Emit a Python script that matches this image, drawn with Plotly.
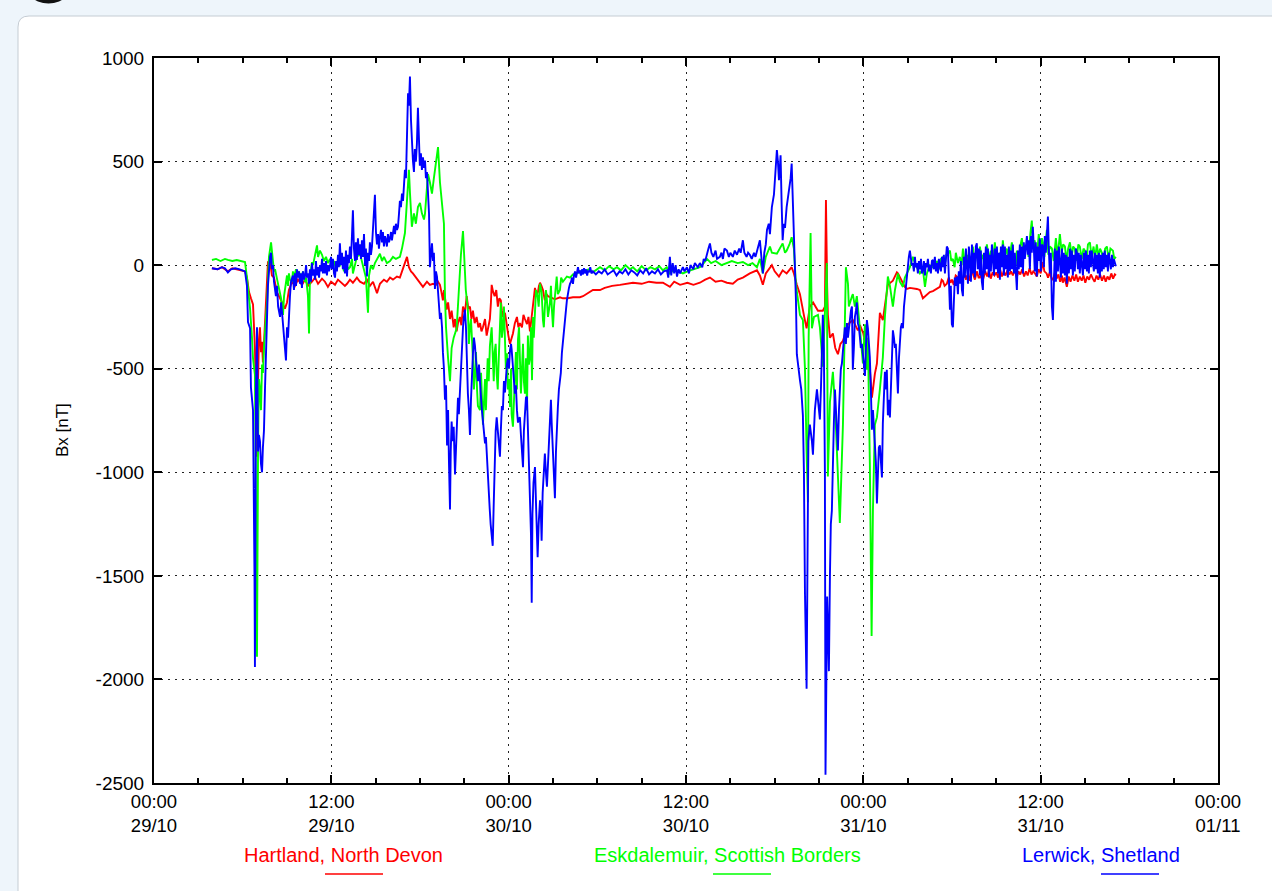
import plotly.graph_objects as go
import pandas as pd

# ---------------- data (hours after 29/10 00:00, Bx in nT) ----------------
hartland = [
    (3.92, -15), (4.3, -20), (4.6, -10), (5.0, -30), (5.3, -15), (5.6, -20), (6.0, -25), (6.16, -30),
    (6.29, -60), (6.43, -130), (6.56, -160), (6.70, -190), (6.83, -400), (6.97, -925), (7.04, -570),
    (7.10, -360), (7.17, -300), (7.24, -420), (7.31, -370), (7.37, -470), (7.44, -380), (7.51, -290),
    (7.58, -150), (7.71, 15), (7.85, 20), (7.98, -50), (8.12, -60), (8.32, -130), (8.53, -160),
    (8.66, -180), (8.86, -210), (9.00, -180), (9.13, -120), (9.34, -80), (9.54, -100), (9.74, -70),
    (10.01, -95), (10.22, -70), (10.42, -100), (10.69, -80), (10.90, -60), (11.10, -90), (11.37, -65),
    (11.57, -80), (11.77, -105), (11.98, -80), (12.25, -95), (12.45, -70), (12.72, -90), (12.92, -100),
    (13.06, -90), (13.26, -70), (13.46, -85), (13.73, -60), (13.94, -80), (14.21, -90), (14.41, -70),
    (14.61, -100), (14.82, -80), (15.09, -135), (15.29, -90), (15.56, -70), (15.76, -80), (15.97, -60),
    (16.17, -70), (16.44, -55), (16.64, -60), (16.85, -20), (17.12, 40), (17.25, -10), (17.39, -30),
    (17.52, -40), (17.72, -60), (17.92, -80), (18.2, -105), (18.47, -80), (18.67, -95), (18.88, -90),
    (19.08, -95), (19.22, -80), (19.35, -95), (19.45, -130), (19.55, -170), (19.62, -120),
    (19.69, -150), (19.80, -215), (19.90, -180), (20.03, -260), (20.14, -220), (20.28, -300),
    (20.37, -260), (20.48, -320), (20.57, -280), (20.70, -250), (20.80, -290), (20.91, -200),
    (21.04, -230), (21.16, -150), (21.27, -210), (21.38, -200), (21.48, -260), (21.58, -220),
    (21.70, -280), (21.83, -250), (21.95, -300), (22.06, -280), (22.16, -320), (22.26, -300),
    (22.40, -260), (22.51, -340), (22.62, -300), (22.73, -260), (22.80, -180), (22.85, -95),
    (22.95, -130), (23.05, -150), (23.16, -120), (23.27, -200), (23.37, -160), (23.47, -170),
    (23.54, -220), (23.61, -250), (23.75, -230), (23.88, -300), (23.98, -340), (24.09, -380),
    (24.20, -350), (24.29, -330), (24.42, -280), (24.56, -250), (24.66, -300), (24.76, -280),
    (24.90, -300), (25.00, -240), (25.10, -260), (25.24, -285), (25.34, -250), (25.44, -320),
    (25.54, -260), (25.64, -200), (25.72, -140), (25.78, -110), (25.88, -150), (25.98, -130),
    (26.05, -100), (26.12, -85), (26.22, -100), (26.32, -120), (26.45, -170), (26.55, -140),
    (26.66, -150), (26.79, -155), (27.13, -165), (27.47, -155),
    (27.67, -160), (28.0, -160), (28.35, -155), (28.82, -155), (29.03, -150), (29.70, -120),
    (30.18, -120), (30.5, -110), (31.0, -100), (31.53, -95), (32.0, -90), (32.41, -85), (33.0, -90),
    (33.5, -80), (34.0, -85), (34.44, -85), (34.91, -105), (35.2, -80), (35.6, -95), (36.1, -85),
    (36.5, -95), (36.94, -85), (37.3, -70), (37.62, -60), (38.0, -80), (38.4, -75), (38.77, -85),
    (39.17, -90), (39.5, -70), (39.85, -60), (40.32, -40), (40.80, -25), (41.0, -50), (41.20, -95),
    (41.4, -40), (41.81, 0), (42.0, -30), (42.29, -55), (42.54, -25), (42.81, -40), (43.15, -10),
    (43.30, -40), (43.50, -95), (43.71, -140), (44.0, -250), (44.16, -305), (44.38, -200),
    (44.60, -180), (44.93, -220), (45.26, -220), (45.40, -200), (45.47, 315), (45.55, -100),
    (45.60, -240), (45.74, -350), (45.94, -330), (46.10, -400), (46.28, -430), (46.45, -380),
    (46.62, -365), (46.96, -285), (47.29, -265), (47.63, -315), (47.77, -290), (48.0, -330),
    (48.31, -445), (48.44, -500), (48.58, -640), (48.70, -550), (48.78, -525), (48.92, -475),
    (49.12, -230), (49.32, -265), (49.59, -120), (49.66, -95), (50.0, -75), (50.27, -35), (50.34, -40),
    (50.81, -105), (50.95, -115), (51.15, -110), (51.62, -115), (51.83, -120), (52.03, -160),
    (52.50, -130), (52.71, -125), (53.18, -105), (53.3, -70), (53.38, -75), (53.5, -100), (53.65, -90),
    (53.78, -60), (53.9, -85), (54.0, -70), (54.12, -95), (54.25, -50), (54.33, -55), (54.45, -85),
    (54.58, -45), (54.7, -80), (54.82, -40), (54.95, -70), (55.0, -50), (55.15, -75), (55.28, -35),
    (55.41, -40), (55.55, -70), (55.68, -30), (55.8, -60), (55.89, -60), (56.0, -35), (56.12, -65),
    (56.25, -30), (56.38, -55), (56.5, -25), (56.62, -65), (56.75, -35), (56.88, -50), (57.0, -35),
    (57.12, -60), (57.25, -20), (57.38, -55), (57.5, -30), (57.62, -50), (57.75, -25), (57.88, -45),
    (58.0, -30), (58.12, -50), (58.25, -20), (58.38, -60), (58.5, -30), (58.62, -45), (58.75, -20),
    (58.88, -55), (59.0, -30), (59.12, -50), (59.25, -15), (59.38, -45), (59.5, -30), (59.62, -40),
    (59.74, -55), (59.86, -20), (60.0, -40), (60.15, 15), (60.25, -30), (60.4, -40), (60.5, -60),
    (60.62, -35), (60.76, -70), (60.83, -70), (60.95, -40), (61.08, -65), (61.2, -45), (61.32, -80),
    (61.44, -50), (61.5, -85), (61.62, -60), (61.77, -105), (61.9, -55), (62.02, -80), (62.15, -50),
    (62.28, -75), (62.4, -45), (62.52, -80), (62.65, -55), (62.78, -75), (62.9, -50), (63.02, -85),
    (63.15, -55), (63.28, -70), (63.4, -45), (63.53, -65), (63.65, -80), (63.78, -50), (63.9, -70),
    (64.02, -45), (64.15, -75), (64.28, -50), (64.4, -80), (64.52, -55), (64.65, -70), (64.78, -40),
    (64.9, -65), (65.02, -45), (65.09, -50),
]

eskdalemuir = [
    (3.92, 25), (4.2, 30), (4.5, 20), (4.8, 30), (5.0, 25), (5.3, 20), (5.6, 25), (6.0, 18), (6.16, 15),
    (6.29, -60), (6.43, -150), (6.50, -210), (6.63, -350), (6.70, -450), (6.83, -530), (6.90, -1200),
    (6.97, -1890), (7.04, -900), (7.10, -550), (7.17, -600), (7.24, -700), (7.31, -480), (7.37, -520),
    (7.44, -400), (7.51, -300), (7.58, -250), (7.65, -180), (7.71, -50), (7.78, 40), (7.92, 110),
    (7.98, 80), (8.05, 20), (8.12, -30), (8.19, -20), (8.32, -65), (8.40, -90), (8.53, -130),
    (8.60, -160), (8.66, -200), (8.73, -240), (8.80, -150), (8.86, -120), (9.00, -50), (9.07, -100),
    (9.13, -40), (9.20, -70), (9.34, -80), (9.40, -30), (9.47, -60), (9.61, -20), (9.74, -50),
    (9.81, -30), (9.95, -70), (10.08, -30), (10.22, -80), (10.29, -60), (10.42, -150), (10.49, -330),
    (10.55, -60), (10.62, -20), (10.69, 15), (10.76, 0), (10.90, 60), (11.03, 95), (11.10, 40),
    (11.23, 70), (11.37, 50), (11.50, 20), (11.64, 40), (11.77, 10), (11.91, 30), (12.05, -10),
    (12.18, 20), (12.32, -20), (12.45, 10), (12.58, 0), (12.72, 30), (12.85, -30), (12.99, 20),
    (13.13, -20), (13.26, -10), (13.40, 30), (13.46, -40), (13.60, 10), (13.73, 40), (13.94, 55),
    (14.07, 20), (14.21, -20), (14.34, -60), (14.48, -230), (14.55, -50), (14.68, 0), (14.82, -20),
    (14.95, 10), (15.09, 30), (15.29, 55), (15.43, 20), (15.56, 40), (15.76, 10), (15.97, 20),
    (16.17, 40), (16.37, 30), (16.64, 40), (16.78, 80), (16.98, 155), (17.12, 300), (17.25, 460),
    (17.32, 350), (17.45, 185), (17.59, 250), (17.72, 200), (17.86, 280), (18.0, 300), (18.13, 250),
    (18.27, 220), (18.34, 250), (18.47, 380), (18.54, 440), (18.67, 400), (18.81, 345), (18.94, 420),
    (19.08, 500), (19.22, 570), (19.35, 400), (19.49, 300), (19.62, 200), (19.69, -150), (19.76, -300),
    (19.90, -450), (20.03, -560), (20.14, -400), (20.28, -350), (20.48, -305), (20.63, -100),
    (20.77, 50), (20.91, 165), (21.04, 0), (21.1, -120), (21.24, -215), (21.31, -380), (21.38, -300),
    (21.45, -260), (21.58, -450), (21.65, -600), (21.72, -525), (21.79, -420), (21.86, -600),
    (21.92, -680), (22.06, -700), (22.13, -520), (22.26, -770), (22.33, -640), (22.40, -550),
    (22.46, -700), (22.58, -450), (22.65, -560), (22.73, -390), (22.85, -300), (22.92, -480),
    (22.99, -560), (23.05, -420), (23.12, -380), (23.19, -525), (23.26, -600), (23.33, -450),
    (23.41, -250), (23.47, -180), (23.54, -350), (23.61, -305), (23.68, -200), (23.75, -350),
    (23.81, -500), (23.88, -425), (23.95, -600), (24.02, -550), (24.09, -685), (24.16, -500),
    (24.20, -720), (24.29, -780), (24.36, -650), (24.42, -550), (24.49, -420), (24.56, -600),
    (24.63, -360), (24.70, -300), (24.76, -425), (24.83, -620), (24.90, -500), (24.97, -380),
    (25.03, -560), (25.10, -620), (25.17, -450), (25.24, -700), (25.30, -340), (25.37, -480),
    (25.44, -450), (25.51, -300), (25.58, -555), (25.64, -250), (25.70, -350), (25.78, -200),
    (25.85, -120), (25.96, -150), (26.03, -200), (26.12, -90), (26.23, -130), (26.32, -265),
    (26.38, -300), (26.45, -200), (26.52, -120), (26.57, -150), (26.66, -250), (26.79, -185),
    (26.86, -100), (26.93, -220), (27.00, -300), (27.07, -200), (27.13, -150), (27.20, -80),
    (27.25, -55), (27.33, -140), (27.47, -120), (27.55, -60), (27.67, -80), (27.94, -55),
    (28.15, -60), (28.35, -45), (28.62, -40), (28.82, -30),
    (29.03, -35), (29.40, -20), (29.70, -35), (30.18, -10), (30.5, -25), (30.8, -5), (31.1, -20),
    (31.33, -10), (31.6, -25), (31.9, 0), (32.2, -20), (32.41, -10), (32.7, -30), (33.0, -5),
    (33.3, -25), (33.6, -10), (33.9, -20), (34.2, -5), (34.44, -25), (34.7, -10), (34.91, -40),
    (35.2, -20), (35.5, -30), (35.79, -40), (36.1, -30), (36.5, -20), (36.94, -10), (37.2, 10),
    (37.42, 30), (37.7, 10), (38.0, 20), (38.4, 0), (38.77, 10), (39.1, 20), (39.5, 10), (39.85, 15),
    (40.2, 0), (40.5, 10), (40.80, -10), (41.0, 30), (41.20, -40), (41.4, 40), (41.68, 90), (41.81, 60),
    (42.15, 55), (42.40, 90), (42.54, 105), (42.7, 60), (42.81, 70), (43.0, 100), (43.15, 135),
    (43.30, 80), (43.44, -95), (43.60, -180), (43.71, -240), (43.91, -265), (44.05, -500),
    (44.16, -900), (44.25, -1145), (44.30, -350), (44.38, -100), (44.43, 155), (44.52, -305),
    (44.66, -250), (44.93, -240), (45.06, -300), (45.26, -490), (45.40, -200), (45.53, 10),
    (45.60, -1020), (45.74, -660), (45.94, -515), (46.10, -700), (46.21, -895), (46.41, -1245),
    (46.62, -770), (46.75, -300), (46.82, -10), (46.96, -90), (47.02, -200), (47.23, -150),
    (47.29, -140), (47.43, -200), (47.56, -150), (47.77, -305), (47.97, -475), (48.11, -285),
    (48.24, -505), (48.31, -350), (48.44, -955), (48.56, -1790), (48.65, -1180), (48.78, -770),
    (48.92, -735), (49.12, -600), (49.32, -445), (49.46, -250), (49.66, -55), (49.80, -100),
    (50.0, -200), (50.14, -120), (50.34, -40), (50.47, -80), (50.68, -105), (50.81, -60), (51.15, -10),
    (51.35, 40), (51.55, 0), (51.83, -40), (52.03, -20), (52.17, -105), (52.30, -40), (52.50, 0),
    (52.71, -10), (53.0, 20), (53.12, -20), (53.25, 30), (53.38, 40), (53.5, 0), (53.62, 50),
    (53.72, 55), (53.86, 70), (53.95, 20), (54.06, 30), (54.18, -10), (54.26, 60), (54.4, 10),
    (54.53, 40), (54.65, 0), (54.74, 80), (54.85, 20), (55.01, 50), (55.1, -10), (55.21, 30),
    (55.3, -20), (55.41, 90), (55.52, 20), (55.68, 60), (55.78, 0), (55.89, 90), (56.0, 30),
    (56.09, 50), (56.2, -10), (56.36, 100), (56.48, 30), (56.63, 70), (56.75, 10), (56.90, 110),
    (57.0, 40), (57.12, 20), (57.24, 60), (57.35, 0), (57.44, 120), (57.55, 40), (57.71, 80),
    (57.82, 20), (57.95, 60), (58.05, 110), (58.18, 30), (58.3, -10), (58.39, 70), (58.5, 20),
    (58.62, 90), (58.73, 130), (58.85, 40), (58.96, 90), (59.07, 100), (59.18, 40), (59.3, 150),
    (59.40, 215), (59.5, 80), (59.60, 120), (59.72, 20), (59.87, 150), (59.98, 60), (60.08, 130),
    (60.15, 110), (60.25, 40), (60.35, 120), (60.42, 170), (60.52, 50), (60.62, 90), (60.76, 80),
    (60.88, 20), (61.03, 130), (61.15, 40), (61.30, 150), (61.42, 60), (61.52, 100), (61.64, 90),
    (61.75, 20), (61.86, 80), (61.98, 110), (62.1, 40), (62.2, 90), (62.31, 80), (62.42, 20),
    (62.55, 100), (62.65, 90), (62.78, 30), (62.9, 80), (62.99, 70), (63.1, 20), (63.2, 100),
    (63.33, 110), (63.45, 40), (63.58, 90), (63.68, 30), (63.80, 100), (63.92, 40), (64.02, 80),
    (64.14, 60), (64.25, 10), (64.36, 80), (64.48, 90), (64.6, 30), (64.72, 80), (64.89, 70),
    (64.98, 30), (65.09, 40),
]

lerwick = [
    (3.92, -15), (4.3, -20), (4.6, -10), (4.8, -15), (5.0, -35), (5.2, -20), (5.5, -15), (5.8, -20),
    (6.16, -30), (6.29, -100), (6.36, -275), (6.50, -305), (6.56, -590), (6.70, -700), (6.80, -1500),
    (6.83, -1940), (6.87, -1200), (6.90, -600), (6.97, -300), (7.04, -900), (7.10, -820), (7.17, -850),
    (7.24, -960), (7.31, -1000), (7.37, -880), (7.44, -800), (7.51, -600), (7.58, -400), (7.65, -250),
    (7.71, -100), (7.85, 40), (7.92, 60), (7.98, -20), (8.05, 0), (8.12, -80), (8.19, -130),
    (8.25, -150), (8.32, -100), (8.40, -200), (8.53, -250), (8.60, -180), (8.66, -225), (8.73, -300),
    (8.80, -340), (8.86, -400), (8.93, -460), (9.00, -300), (9.07, -350), (9.13, -200), (9.20, -150),
    (9.27, -80), (9.34, -60), (9.40, -50), (9.47, -120), (9.54, -40), (9.61, -100), (9.68, -20),
    (9.74, -60), (9.81, -30), (9.88, -90), (9.95, -40), (10.01, -110), (10.08, -30), (10.15, -70),
    (10.22, -50), (10.29, 0), (10.35, -60), (10.42, -40), (10.49, -90), (10.55, -20), (10.62, -80),
    (10.69, 10), (10.76, -50), (10.83, -20), (10.90, -70), (10.96, 20), (11.03, -50), (11.10, -10),
    (11.17, -60), (11.23, 0), (11.30, -30), (11.37, 30), (11.43, -40), (11.50, 10), (11.57, -40),
    (11.64, 20), (11.70, -50), (11.77, 0), (11.84, -30), (11.91, -10), (11.98, 40), (12.05, -20),
    (12.11, 30), (12.18, -40), (12.25, -60), (12.32, 20), (12.38, -30), (12.45, 50), (12.51, -10),
    (12.58, 105), (12.65, 0), (12.72, 60), (12.78, -20), (12.85, 40), (12.92, -40), (12.99, 70),
    (13.06, -55), (13.13, 50), (13.19, 10), (13.26, 90), (13.33, 30), (13.40, 150), (13.46, 265),
    (13.53, 80), (13.60, 20), (13.66, 110), (13.73, 25), (13.80, 130), (13.87, 50), (13.94, 100),
    (14.01, 30), (14.07, 120), (14.14, 40), (14.21, 150), (14.28, 0), (14.34, 80), (14.41, -55),
    (14.48, 60), (14.55, 20), (14.61, 110), (14.68, 50), (14.75, 90), (14.82, 180), (14.88, 250),
    (14.95, 340), (15.02, 160), (15.09, 100), (15.16, 150), (15.22, 80), (15.29, 135), (15.36, 170),
    (15.43, 110), (15.49, 160), (15.56, 90), (15.63, 140), (15.70, 120), (15.76, 90), (15.83, 150),
    (15.90, 110), (15.97, 130), (16.04, 160), (16.10, 120), (16.17, 155), (16.24, 190), (16.31, 150),
    (16.37, 200), (16.44, 170), (16.51, 185), (16.58, 250), (16.64, 310), (16.71, 280), (16.78, 345),
    (16.85, 310), (16.91, 400), (16.98, 460), (17.05, 420), (17.12, 600), (17.19, 830), (17.25, 770),
    (17.32, 910), (17.39, 700), (17.45, 560), (17.52, 505), (17.59, 450), (17.65, 560), (17.72, 500),
    (17.79, 585), (17.86, 760), (17.92, 640), (17.99, 480), (18.06, 540), (18.13, 460), (18.20, 520),
    (18.27, 470), (18.34, 505), (18.40, 420), (18.47, 450), (18.54, 315), (18.61, 250), (18.67, -10),
    (18.74, 80), (18.81, 105), (18.88, 20), (18.94, 60), (19.01, -115), (19.08, -30), (19.15, -55),
    (19.22, -150), (19.28, -200), (19.35, -260), (19.42, -230), (19.49, -300), (19.55, -420),
    (19.62, -500), (19.69, -650), (19.76, -580), (19.83, -870), (19.90, -700), (19.96, -950),
    (20.03, -1180), (20.08, -900), (20.14, -755), (20.21, -850), (20.28, -780), (20.37, -1010),
    (20.43, -880), (20.50, -700), (20.57, -640), (20.63, -720), (20.70, -595), (20.77, -500),
    (20.84, -400), (20.91, -300), (20.97, -250), (21.04, -215), (21.11, -300), (21.17, -480),
    (21.24, -620), (21.31, -700), (21.38, -820), (21.45, -650), (21.52, -500), (21.58, -430),
    (21.65, -350), (21.72, -390), (21.79, -460), (21.86, -520), (21.92, -560), (21.99, -480),
    (22.06, -595), (22.13, -640), (22.19, -700), (22.26, -760), (22.33, -820), (22.40, -860),
    (22.46, -830), (22.51, -910), (22.58, -1000), (22.65, -1100), (22.72, -1180), (22.78, -1250),
    (22.85, -1300), (22.92, -1355), (22.99, -1150), (23.05, -950), (23.12, -800), (23.19, -735),
    (23.26, -800), (23.33, -870), (23.41, -925), (23.47, -800), (23.54, -680), (23.61, -700),
    (23.68, -560), (23.75, -615), (23.81, -520), (23.88, -480), (23.95, -450), (24.02, -500),
    (24.09, -410), (24.16, -380), (24.20, -405), (24.29, -520), (24.36, -560), (24.42, -620),
    (24.49, -580), (24.56, -700), (24.63, -760), (24.70, -740), (24.76, -735), (24.83, -820),
    (24.90, -900), (24.97, -975), (25.03, -800), (25.10, -700), (25.17, -640), (25.24, -635),
    (25.30, -800), (25.37, -950), (25.44, -1135), (25.51, -1300), (25.56, -1630), (25.61, -1200),
    (25.68, -1050), (25.78, -975), (25.85, -1150), (25.91, -1300), (25.96, -1410), (26.03, -1250),
    (26.12, -1135), (26.18, -1200), (26.23, -1330), (26.30, -1100), (26.38, -950), (26.45, -910),
    (26.52, -1000), (26.59, -1070), (26.66, -960), (26.73, -820), (26.79, -700), (26.86, -650),
    (26.91, -760), (27.00, -900), (27.07, -1050), (27.13, -1125), (27.20, -900), (27.27, -750),
    (27.33, -685), (27.40, -600), (27.47, -560), (27.53, -520), (27.60, -425), (27.67, -380),
    (27.74, -320), (27.81, -280), (27.88, -215), (27.94, -170), (28.01, -130), (28.08, -110),
    (28.15, -90), (28.22, -80), (28.29, -60), (28.35, -90), (28.42, -50), (28.49, -30), (28.56, -60),
    (28.62, -40), (28.69, -10), (28.76, -40), (28.82, -25), (28.89, -50), (28.96, -20), (29.03, -45),
    (29.10, -15), (29.17, -40), (29.24, -20), (29.31, -50), (29.38, -25), (29.45, -35), (29.52, -10),
    (29.60, -40), (29.70, -30), (29.9, -45), (30.1, -30), (30.3, -40), (30.5, -20), (30.7, -45),
    (30.9, -35), (31.1, -25), (31.3, -50), (31.5, -30), (31.7, -40), (31.9, -20), (32.1, -45),
    (32.3, -25), (32.5, -35), (32.7, -50), (32.9, -25), (33.1, -40), (33.3, -15), (33.5, -45),
    (33.7, -30), (33.9, -40), (34.1, -20), (34.3, -45), (34.5, -30), (34.71, -25), (34.8, -60),
    (34.91, 40), (35.0, -50), (35.1, 10), (35.2, -40), (35.3, 0), (35.39, -55), (35.5, -20),
    (35.6, -40), (35.79, -10), (35.9, -30), (36.06, -10), (36.2, -40), (36.3, 0), (36.5, -20),
    (36.6, 10), (36.8, -10), (36.94, 10), (37.1, -10), (37.2, 30), (37.3, 20), (37.42, 60),
    (37.52, 80), (37.62, 105), (37.72, 60), (37.85, 40), (38.0, 70), (38.1, 30), (38.29, 40),
    (38.4, 60), (38.5, 30), (38.6, 80), (38.77, 70), (38.9, 40), (39.0, 60), (39.17, 40), (39.3, 70),
    (39.45, 50), (39.6, 80), (39.70, 60), (39.85, 120), (39.95, 60), (40.1, 40), (40.2, 60),
    (40.32, 50), (40.45, 30), (40.6, 60), (40.70, 40), (40.80, 70), (40.9, 90), (41.0, 120),
    (41.10, 40), (41.20, -40), (41.3, 60), (41.40, 100), (41.48, 170), (41.6, 200), (41.68, 150),
    (41.81, 280), (41.95, 340), (42.05, 460), (42.15, 555), (42.22, 500), (42.29, 410), (42.35, 470),
    (42.40, 530), (42.47, 300), (42.54, 120), (42.62, 200), (42.70, 180), (42.81, 280), (42.90, 320),
    (43.0, 380), (43.08, 420), (43.15, 490), (43.23, 330), (43.30, 150), (43.37, -35), (43.44, -170),
    (43.50, -430), (43.60, -500), (43.71, -555), (43.80, -600), (43.91, -725), (43.98, -1000),
    (44.05, -1580), (44.16, -2045), (44.22, -1200), (44.28, -850), (44.38, -770), (44.45, -800),
    (44.52, -850), (44.59, -915), (44.66, -800), (44.72, -700), (44.86, -600), (44.93, -650),
    (45.06, -745), (45.13, -600), (45.20, -350), (45.26, -240), (45.33, -400), (45.40, -1000),
    (45.44, -2460), (45.50, -2000), (45.55, -1600), (45.60, -1730), (45.67, -1960), (45.74, -1500),
    (45.80, -1250), (45.87, -1185), (45.94, -900), (46.01, -750), (46.08, -600), (46.14, -700),
    (46.21, -820), (46.28, -895), (46.35, -700), (46.41, -550), (46.48, -500), (46.55, -475),
    (46.62, -420), (46.75, -300), (46.82, -380), (46.89, -280), (46.96, -350), (47.02, -300),
    (47.09, -250), (47.16, -220), (47.23, -200), (47.29, -505), (47.36, -400), (47.43, -250),
    (47.50, -220), (47.56, -180), (47.63, -280), (47.70, -300), (47.77, -350), (47.83, -400),
    (47.90, -380), (47.97, -420), (48.04, -480), (48.11, -535), (48.17, -400), (48.24, -265),
    (48.31, -305), (48.37, -380), (48.44, -445), (48.51, -600), (48.58, -795), (48.65, -700),
    (48.72, -770), (48.78, -830), (48.85, -950), (48.92, -1150), (48.98, -1000), (49.05, -880),
    (49.12, -870), (49.19, -950), (49.26, -1025), (49.32, -765), (49.39, -600), (49.46, -515),
    (49.52, -600), (49.59, -505), (49.66, -725), (49.73, -650), (49.80, -735), (49.87, -550),
    (49.93, -400), (50.00, -315), (50.07, -350), (50.14, -400), (50.20, -380), (50.27, -500),
    (50.34, -620), (50.41, -450), (50.47, -350), (50.54, -300), (50.61, -280), (50.68, -305),
    (50.75, -200), (50.81, -150), (50.88, -100), (50.95, -35), (51.02, 20), (51.08, 40), (51.15, 70),
    (51.22, 30), (51.28, 0), (51.35, 10), (51.42, -30), (51.49, 40), (51.55, -10), (51.62, 10),
    (51.69, -40), (51.76, 20), (51.83, -20), (51.90, 30), (51.96, -40), (52.03, -25), (52.10, 20),
    (52.17, -50), (52.23, 10), (52.30, -10), (52.37, 30), (52.44, -30), (52.50, 0), (52.57, -40),
    (52.64, 20), (52.71, 25), (52.77, -20), (52.84, 40), (52.91, -30), (52.98, 10), (53.05, -40),
    (53.11, 30), (53.18, 0), (53.25, -30), (53.32, 40), (53.38, -10), (53.45, 50), (53.52, -40),
    (53.58, 20), (53.65, 90), (53.72, 80), (53.79, -50), (53.86, -215), (53.92, -100), (53.99, -285),
    (54.06, -300), (54.13, -150), (54.19, -60), (54.26, -100), (54.33, -55), (54.40, -140),
    (54.46, -30), (54.53, -90), (54.60, 20), (54.67, -120), (54.74, -150), (54.80, 40), (54.87, -60),
    (54.94, 80), (55.01, -20), (55.08, -90), (55.14, 90), (55.21, 30), (55.28, -80), (55.35, 100),
    (55.41, -40), (55.48, 60), (55.55, -60), (55.61, 90), (55.68, 105), (55.75, -20), (55.82, 80),
    (55.89, -50), (55.95, 70), (56.02, -80), (56.09, -120), (56.16, 60), (56.22, -40), (56.29, 90),
    (56.36, -20), (56.43, 80), (56.50, -60), (56.56, 50), (56.63, -30), (56.70, 100), (56.77, 30),
    (56.84, -50), (56.90, 80), (56.97, -20), (57.04, 90), (57.11, -40), (57.17, 60), (57.24, -70),
    (57.31, 90), (57.38, -10), (57.44, 100), (57.51, -50), (57.58, 90), (57.65, -20), (57.71, 50),
    (57.78, -60), (57.85, 90), (57.92, -30), (57.98, 70), (58.05, -20), (58.12, 100), (58.19, -40),
    (58.25, 60), (58.32, -60), (58.39, -120), (58.46, 70), (58.52, -20), (58.59, 100), (58.66, -10),
    (58.73, 90), (58.80, -40), (58.86, 110), (58.93, 30), (59.00, 90), (59.07, 140), (59.13, 50),
    (59.20, 120), (59.27, -20), (59.34, 140), (59.40, 60), (59.47, 185), (59.54, 80), (59.60, -30),
    (59.67, 110), (59.74, -55), (59.81, 90), (59.87, 20), (59.94, 130), (60.01, -30), (60.08, 100),
    (60.15, 90), (60.22, -10), (60.28, 140), (60.35, 60), (60.42, 160), (60.49, 235), (60.55, 80),
    (60.62, -40), (60.69, 60), (60.76, -200), (60.83, -265), (60.89, -60), (60.96, 80), (61.03, -80),
    (61.10, 70), (61.17, -30), (61.23, 90), (61.30, 20), (61.37, -60), (61.44, 80), (61.50, -40),
    (61.57, 60), (61.64, -50), (61.71, 50), (61.77, -90), (61.84, 40), (61.91, -40), (61.98, 80),
    (62.04, -20), (62.11, 70), (62.18, -50), (62.25, 50), (62.31, -30), (62.38, 80), (62.45, 60),
    (62.52, -20), (62.58, 60), (62.65, -40), (62.72, 50), (62.79, 0), (62.86, -50), (62.92, 60),
    (62.99, -20), (63.06, 70), (63.13, -30), (63.19, 50), (63.26, -40), (63.33, 70), (63.40, -10),
    (63.46, 70), (63.53, 20), (63.60, -30), (63.67, 60), (63.73, -20), (63.80, 50), (63.87, -40),
    (63.94, 60), (64.00, -60), (64.07, 50), (64.14, -30), (64.21, 60), (64.27, -20), (64.34, 70),
    (64.41, -10), (64.48, 50), (64.55, -30), (64.61, 60), (64.68, 20), (64.75, -20), (64.82, 50),
    (64.89, -10), (64.95, 30), (65.02, 10), (65.09, -5),
]

station_names = ["Hartland, North Devon", "Eskdalemuir, Scottish Borders", "Lerwick, Shetland"]
station_colors = ["#ff0000", "#00ff00", "#0000ff"]
x_tick_hours = [0, 12, 24, 36, 48, 60, 72]
x_tick_text = ["00:00<br>29/10", "12:00<br>29/10", "00:00<br>30/10", "12:00<br>30/10",
               "00:00<br>31/10", "12:00<br>31/10", "00:00<br>01/11"]
y_ticks = [-2500, -2000, -1500, -1000, -500, 0, 500, 1000]
y_tick_text = ["-2500", "-2000", "-1500", "-1000", "-500", "0", "500", "1000"]

# ---------------- figure ----------------
base = pd.Timestamp("2003-10-29 00:00")


def to_time(hours):
    return [base + pd.Timedelta(hours=h) for h in hours]


W, H = 1272, 891
L, R, T, B = 154, 54, 58, 108
PW, PH = W - L - R, H - T - B


def px(x):
    return (x - L) / PW


def py(y):
    return (H - B - y) / PH


fig = go.Figure()
for series, name, color in zip([hartland, eskdalemuir, lerwick], station_names, station_colors):
    hrs = [p[0] for p in series]
    vals = [p[1] for p in series]
    fig.add_trace(go.Scatter(x=to_time(hrs), y=vals, mode="lines", name=name,
                             line=dict(color=color, width=1.9), showlegend=False,
                             hoverinfo="skip"))

font_family = "Liberation Sans, Arial, Helvetica, sans-serif"

shapes = [
    dict(type="path", xref="paper", yref="paper", layer="below",
         path=(f"M {px(18)},{py(900)} L {px(18)},{py(27)} Q {px(18)},{py(16)} {px(29)},{py(16)} "
               f"L {px(1290)},{py(16)} L {px(1290)},{py(900)} Z"),
         fillcolor="white", line=dict(color="#c5ccd3", width=1)),
    dict(type="circle", xref="paper", yref="paper", layer="below",
         x0=px(21), x1=px(76), y0=py(-52), y1=py(3.5), fillcolor="#111", line=dict(width=0)),
]
leg_x = [(325, 383), (713, 771), (1101, 1159)]
leg_cx = [343, 727, 1101]
annotations = [
    dict(text="Bx [nT]", x=px(62), y=py(430), xref="paper", yref="paper", textangle=-90,
         showarrow=False, font=dict(size=17, color="black", family=font_family),
         xanchor="center", yanchor="middle"),
]
for (x0, x1), cx, name, color in zip(leg_x, leg_cx, station_names, station_colors):
    shapes.append(dict(type="line", xref="paper", yref="paper", x0=px(x0), x1=px(x1),
                       y0=py(874), y1=py(874), line=dict(color=color, width=1.5)))
    annotations.append(dict(text=name, x=px(cx), y=py(855), xref="paper", yref="paper",
                            showarrow=False, xanchor="center", yanchor="middle",
                            font=dict(size=20, color=color, family=font_family)))

dotdash = "2px,5px"
fig.update_layout(
    width=W, height=H,
    margin=dict(l=L, r=R, t=T, b=B, pad=0),
    paper_bgcolor="#eef5fb",
    plot_bgcolor="rgba(0,0,0,0)",
    font=dict(family=font_family, size=19, color="black"),
    shapes=shapes,
    annotations=annotations,
    xaxis=dict(
        type="date",
        range=[base, base + pd.Timedelta(hours=72)],
        tickmode="array",
        tickvals=to_time(x_tick_hours),
        ticktext=x_tick_text,
        ticks="inside", ticklen=8, tickwidth=1.5, tickcolor="black",
        showline=True, linecolor="black", linewidth=2, mirror="ticks",
        showgrid=True, gridcolor="#222", gridwidth=1, griddash=dotdash,
        zeroline=False,
        ticklabelstandoff=1,
        minor=dict(ticks="inside", ticklen=5, tickwidth=1.5, tickcolor="black",
                   tickmode="linear", tick0=base, dtick=3 * 3600 * 1000, showgrid=False),
        tickfont=dict(size=18.5),
    ),
    yaxis=dict(
        range=[-2500, 1000],
        tickmode="array", tickvals=y_ticks, ticktext=y_tick_text,
        ticks="inside", ticklen=8, tickwidth=1.5, tickcolor="black",
        showline=True, linecolor="black", linewidth=2, mirror="ticks",
        showgrid=True, gridcolor="#222", gridwidth=1, griddash=dotdash,
        zeroline=False,
        ticklabelstandoff=4,
        tickfont=dict(size=19),
    ),
)

fig.write_html("out.html", config={"displayModeBar": False},
               post_script="document.body.style.margin='0px';")
